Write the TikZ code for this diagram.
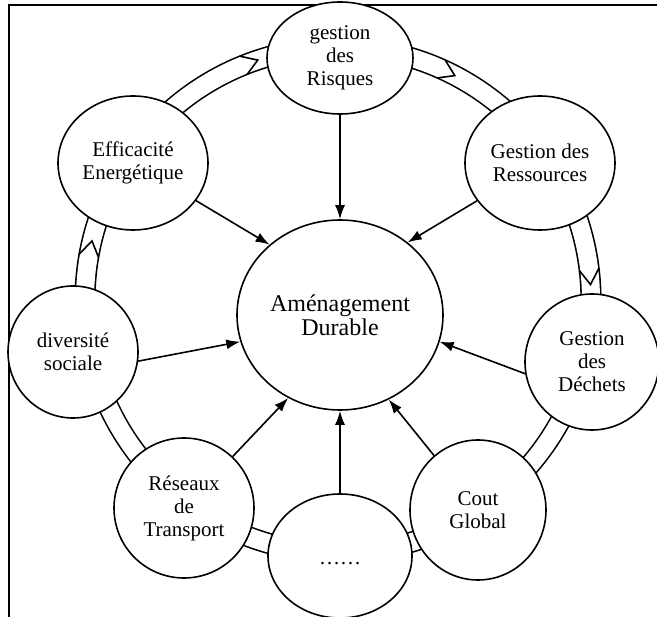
\documentclass[tikz,border=0pt]{standalone}
\usepackage{fontspec}
\setmainfont{Liberation Serif}
\usetikzlibrary{shapes.geometric,arrows.meta}

\tikzset{
  theme/.style={ellipse,draw,line width=1.6pt,fill=white,inner sep=0pt,align=center,font=\fontsize{21}{23}\selectfont},
  hub/.style={theme,font=\fontsize{24}{24}\selectfont},
  link/.style={-{Latex[length=14pt,width=10pt]},line width=1.6pt},
  band/.style={line width=1.6pt,double,double distance=18pt},
  notch/.style={line width=1.6pt,line join=miter}
}

\begin{document}
\begin{tikzpicture}[x=1pt,y=-1pt]
	\useasboundingbox (0,0) rectangle (657,617);
	% frame
	\draw[line width=1.6pt] (9,617) -- (9,5) -- (657,5);
	
	% ring with notches (clockwise)
	\draw[band] (338,300) circle[radius=253];
	\foreach \a in {-112,-66,-7,190}
		\draw[notch,shift={(338,300)}] (\a:263) -- (\a+3.5:253) -- (\a:243);
	
	% themes
	\node[theme, minimum width=146pt, minimum height=112pt] (risques) at (340,58) {gestion\\des\\Risques};
	\node[theme, minimum width=150pt, minimum height=134pt] (efficacite) at (133,163) {Efficacité\\Energétique};
	\node[theme, minimum width=150pt, minimum height=134pt] (ressources) at (540,163) {Gestion des\\Ressources};
	\node[theme, minimum width=130pt, minimum height=132pt] (diversite) at (73,352) {diversité\\sociale};
	\node[theme, minimum width=134pt, minimum height=136pt] (dechets) at (592,362) {Gestion\\des\\Déchets};
	\node[theme, minimum width=140pt, minimum height=140pt] (transport) at (184,508) {Réseaux\\de\\Transport};
	\node[theme, minimum width=144pt, minimum height=124pt, text height=18pt, text depth=0pt] (autres) at (340,556) {……};
	\node[theme, minimum width=136pt, minimum height=140pt] (cout) at (478,510) {Cout\\Global};
	\node[hub, minimum width=206pt, minimum height=190pt] (amenagement) at (340,315) {Aménagement\\Durable};
	
	% links
	\draw[link] (risques) -- (amenagement.90);
	\draw[link] (efficacite) -- (amenagement.135);
	\draw[link] (ressources) -- (amenagement.47);
	\draw[link] (diversite.-8) -- (amenagement.195);
	\draw[link] (dechets.190) -- (amenagement.-15);
	\draw[link] (transport) -- (amenagement.238);
	\draw[link] (autres) -- (amenagement.270);
	\draw[link] (cout) -- (amenagement.300);
\end{tikzpicture}
\end{document}
